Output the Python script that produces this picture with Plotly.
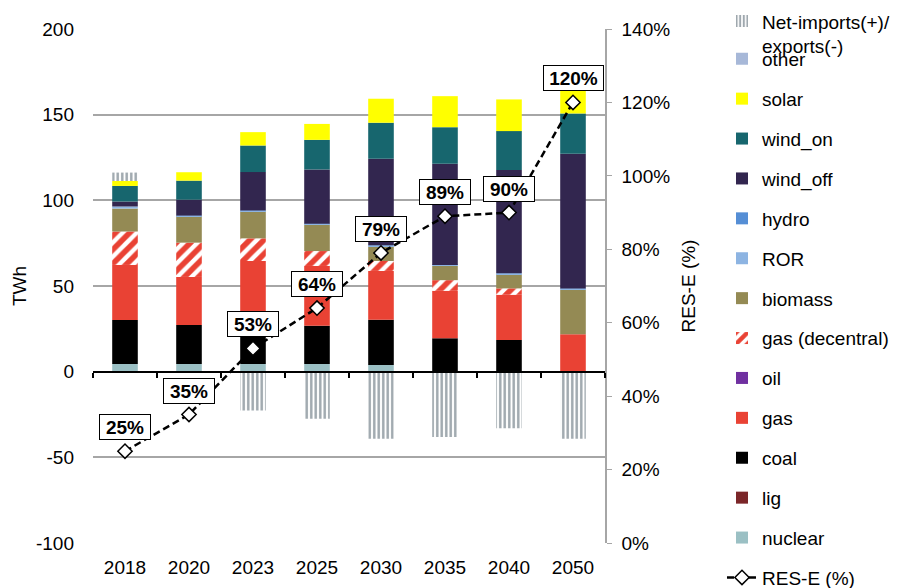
import plotly.graph_objects as go

# ---------------- data ----------------
years = ['2018', '2020', '2023', '2025', '2030', '2035', '2040', '2050']

nuclear     = [4.5, 4.5, 4.5, 4.5, 3.9, 0.0, 0.0, 0.0]
lig         = [0.0, 0.0, 0.0, 0.0, 0.0, 0.0, 0.0, 0.0]
coal        = [25.6, 22.7, 22.0, 22.3, 26.4, 19.5, 18.5, 0.0]
gas         = [32.2, 28.1, 38.1, 34.9, 28.5, 27.7, 26.4, 21.8]
oil         = [0.0, 0.0, 0.0, 0.0, 0.0, 0.0, 0.0, 0.0]
gas_dec     = [19.5, 20.0, 13.2, 8.7, 5.8, 6.2, 3.7, 0.0]
biomass     = [13.4, 15.5, 15.7, 15.5, 8.4, 8.3, 8.2, 26.0]
ror         = [1.2, 0.3, 0.5, 0.5, 0.8, 0.6, 0.7, 0.8]
hydro       = [0.0, 0.0, 0.0, 0.0, 0.0, 0.0, 0.0, 0.0]
wind_off    = [2.9, 9.3, 22.5, 31.6, 50.5, 59.1, 60.2, 78.6]
wind_on     = [9.1, 11.1, 15.5, 17.3, 21.0, 21.3, 22.7, 23.5]
solar       = [2.9, 4.9, 7.8, 9.3, 14.0, 18.1, 18.5, 15.0]
other       = [0.0, 0.0, 0.0, 0.0, 0.0, 0.0, 0.0, 0.0]
net_imports = [4.9, 0.0, -22.7, -27.5, -39.2, -38.2, -33.0, -39.2]

res_e = [25, 35, 53, 64, 79, 89, 90, 120]
res_labels = [f"{v}%" for v in res_e]

twh_ticks = [-100, -50, 0, 50, 100, 150, 200]
twh_ticktext = [str(v) for v in twh_ticks]

# ---------------- styles ----------------
FONT = "Liberation Sans, Arial, sans-serif"
FS = 19
RED = '#E94234'

series = [
    ('nuclear', nuclear, '#9BC0C4', None),
    ('lig', lig, '#7B2629', None),
    ('coal', coal, '#000000', None),
    ('gas', gas, RED, None),
    ('oil', oil, '#7030A0', None),
    ('gas (decentral)', gas_dec, RED, '/'),
    ('biomass', biomass, '#948A54', None),
    ('ROR', ror, '#8DB4E2', None),
    ('hydro', hydro, '#558ED5', None),
    ('wind_off', wind_off, '#32264F', None),
    ('wind_on', wind_on, '#17666E', None),
    ('solar', solar, '#FFFF00', None),
    ('other', other, '#A7B8D8', None),
    ('Net-imports(+)/<br>exports(-)', net_imports, '#9FA8AE', '|'),
]

fig = go.Figure()

for i, (name, vals, color, pat) in enumerate(series):
    if pat is None:
        marker = dict(color=color, line=dict(width=0))
    elif pat == '/':
        marker = dict(color='white', line=dict(width=0),
                      pattern=dict(shape='/', fgcolor=color, bgcolor='white',
                                   fgopacity=1, size=10, solidity=0.55))
    else:
        marker = dict(color='white', line=dict(width=0),
                      pattern=dict(shape='|', fgcolor=color, bgcolor='white',
                                   fgopacity=1, size=4.5, solidity=0.55))
    is_net = name.startswith('Net')
    fig.add_trace(go.Bar(
        x=years, y=vals, name=name, marker=marker, width=0.4,
        legendgroup=name, legendrank=1000 - i,
        legend='legend' if is_net else 'legend2',
        xaxis='x', yaxis='y',
    ))

fig.add_trace(go.Scatter(
    x=years, y=res_e, name='RES-E (%)', mode='lines+markers',
    line=dict(color='black', width=2.5, dash='7px,4px'),
    marker=dict(symbol='diamond', size=11, color='white',
                line=dict(color='black', width=1.5)),
    xaxis='x', yaxis='y2', legend='legend2', legendgroup='rese', legendrank=2000,
))

# invisible trace that carries the zero-line axis (boundary ticks at y = 0)
fig.add_trace(go.Scatter(x=years, y=[0] * len(years), xaxis='x2', yaxis='y',
                         mode='none', showlegend=False, hoverinfo='skip'))

for idx, (v, lab) in enumerate(zip(res_e, res_labels)):
    fig.add_annotation(
        x=idx, y=v, xref='x', yref='y2', text=f"<b>{lab}</b>", showarrow=False,
        yshift=24, font=dict(family=FONT, size=FS, color='black'),
        bgcolor='white', bordercolor='black', borderwidth=1, borderpad=1,
        width=21 + 9 * len(lab), height=22,
    )

xr = [-0.5, len(years) - 0.5]
fig.update_layout(
    width=891, height=580,
    margin=dict(l=85, r=294, t=21, b=45, autoexpand=False),
    paper_bgcolor='white', plot_bgcolor='white',
    barmode='relative',
    font=dict(family=FONT, size=FS, color='black'),
    showlegend=True,
    xaxis=dict(type='category', categoryorder='array', categoryarray=years,
               range=xr, showgrid=False, showline=False, ticks='',
               tickfont=dict(size=FS), ticklabelstandoff=11, zeroline=False),
    xaxis2=dict(type='category', categoryorder='array', categoryarray=years,
                range=xr, overlaying='x', anchor='free', position=1/3,
                showline=True, linecolor='black', linewidth=2,
                ticks='outside', tickson='boundaries', ticklen=5, tickwidth=2,
                tickcolor='black', showticklabels=False, showgrid=False,
                zeroline=False),
    yaxis=dict(range=[-100, 200], tickvals=twh_ticks, ticktext=twh_ticktext,
               showgrid=True, gridcolor='#A6A6A6', gridwidth=2, zeroline=False,
               showline=False, ticks='', tickfont=dict(size=FS),
               ticklabelstandoff=18,
               title=dict(text='TWh', font=dict(size=FS), standoff=4)),
    yaxis2=dict(overlaying='y', side='right', anchor='x', range=[0, 140], dtick=20,
                ticksuffix='%', showgrid=False, zeroline=False, showline=True,
                linecolor='#A6A6A6', linewidth=1.5, ticks='outside', ticklen=5,
                tickcolor='#A6A6A6', tickfont=dict(size=FS), ticklabelstandoff=6,
                title=dict(text='RES-E (%)', font=dict(size=FS), standoff=12)),
    legend=dict(x=1.2285, xanchor='left', y=1.052, yanchor='top',
                bgcolor='rgba(0,0,0,0)', font=dict(size=FS), valign='top',
                traceorder='grouped', tracegroupgap=12),
    legend2=dict(x=1.2285, xanchor='left', y=0.9788, yanchor='top',
                 bgcolor='rgba(0,0,0,0)', font=dict(size=FS),
                 traceorder='grouped', tracegroupgap=12.2, maxheight=700),
)

fig.write_html("out.html")
